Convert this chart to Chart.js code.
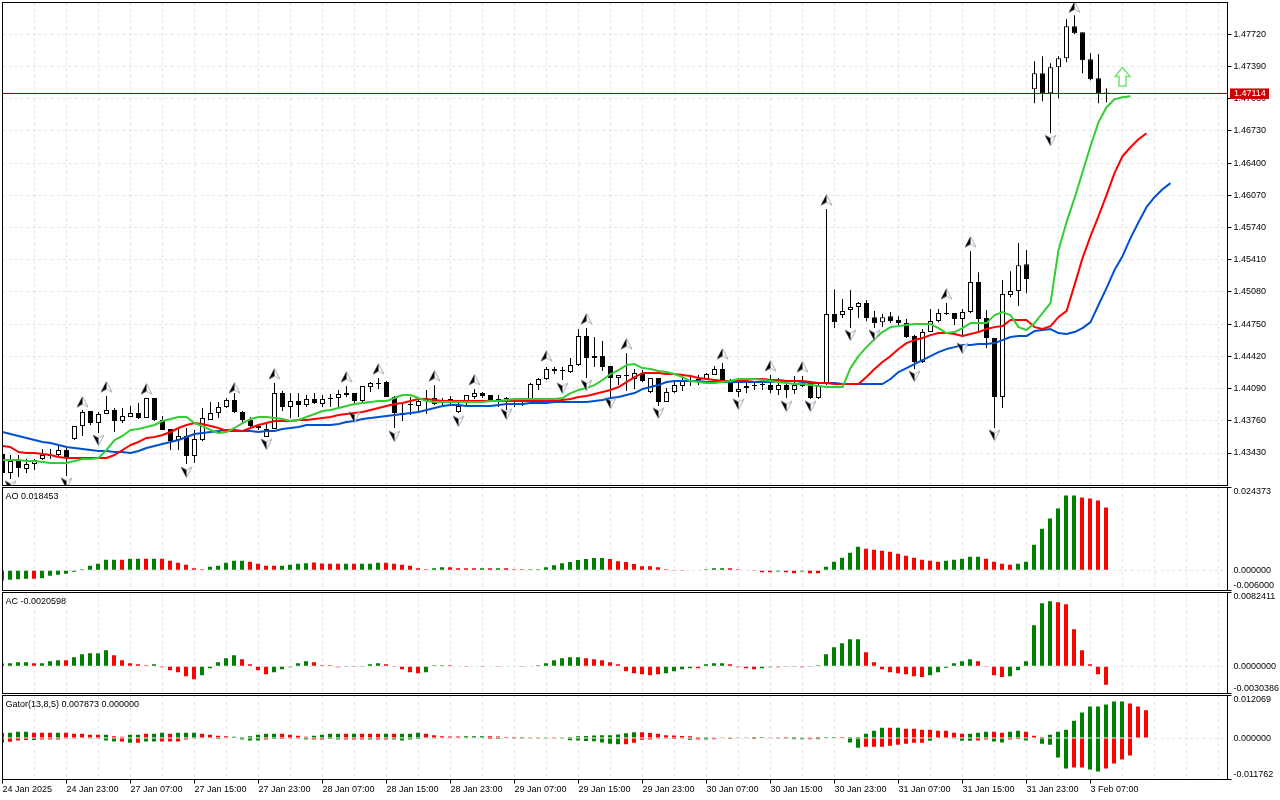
<!DOCTYPE html>
<html>
<head>
<meta charset="utf-8">
<title>Bill Williams chart</title>
<script src="https://cdn.jsdelivr.net/npm/chart.js@4"></script>
<style>
  html, body { margin: 0; padding: 0; background: #fff; }
  canvas { position: absolute; left: 0; }
</style>
</head>
<body>
<canvas id="mainChart" width="1280" height="487" style="top:0"></canvas>
<canvas id="aoChart" width="1280" height="105" style="top:487px"></canvas>
<canvas id="acChart" width="1280" height="103" style="top:592px"></canvas>
<canvas id="gatorChart" width="1280" height="105" style="top:695px"></canvas>
<script>
const timeLabels = ['24 Jan 2025', '24 Jan 23:00', '27 Jan 07:00', '27 Jan 15:00', '27 Jan 23:00', '28 Jan 07:00',
    '28 Jan 15:00', '28 Jan 23:00', '29 Jan 07:00', '29 Jan 15:00', '29 Jan 23:00', '30 Jan 07:00',
    '30 Jan 15:00', '30 Jan 23:00', '31 Jan 07:00', '31 Jan 15:00', '31 Jan 23:00', '3 Feb 07:00'];
const priceTicks = [1.4772, 1.4739, 1.4706, 1.4673, 1.464, 1.4607, 1.4574, 1.4541, 1.4508, 1.4475, 1.4442, 1.4409, 1.4376, 1.4343];
const currentPrice = 1.47114;

const openPrices = [
    1.43420, 1.43225, 1.43348, 1.43266, 1.43317, 1.43369, 1.43410, 1.43410, 1.43461, 1.43573,
    1.43707, 1.43861, 1.43737, 1.43830, 1.43871, 1.43758, 1.43799, 1.43840, 1.43789, 1.43994,
    1.43768, 1.43676, 1.43563, 1.43605, 1.43400, 1.43563, 1.43768, 1.43840, 1.43901, 1.43973,
    1.43851, 1.43768, 1.43707, 1.43594, 1.43676, 1.44045, 1.43901, 1.43963, 1.43922, 1.43983,
    1.43932, 1.43994, 1.43994, 1.44045, 1.44045, 1.43963, 1.44106, 1.44136, 1.44157, 1.44004,
    1.43820, 1.43922, 1.43912, 1.43963, 1.43994, 1.43963, 1.43942, 1.43851, 1.43963, 1.44004,
    1.44045, 1.44024, 1.43983, 1.43983, 1.43983, 1.43973, 1.43983, 1.44126, 1.44187, 1.44290,
    1.44270, 1.44259, 1.44331, 1.44628, 1.44403, 1.44423, 1.44321, 1.44198, 1.44218, 1.44187,
    1.44249, 1.44055, 1.44198, 1.43953, 1.44055, 1.44116, 1.44167, 1.44177, 1.44187, 1.44229,
    1.44290, 1.44146, 1.44055, 1.44095, 1.44126, 1.44136, 1.44126, 1.44075, 1.44126, 1.44075,
    1.44146, 1.44146, 1.43994, 1.44136, 1.44853, 1.44843, 1.44894, 1.44925, 1.44966, 1.44822,
    1.44771, 1.44832, 1.44792, 1.44761, 1.44628, 1.44362, 1.44669, 1.44782, 1.44853, 1.44864,
    1.44802, 1.44874, 1.45181, 1.44812, 1.44608, 1.44004, 1.45048, 1.45089, 1.45365, 1.47157,
    1.47321, 1.47116, 1.47383, 1.47475, 1.47802, 1.47741, 1.47465, 1.47270, 1.47116];
const highPrices = [
    1.43461, 1.43410, 1.43410, 1.43369, 1.43369, 1.43471, 1.43471, 1.43512, 1.43481, 1.43707,
    1.43871, 1.43861, 1.43851, 1.44014, 1.43891, 1.43891, 1.43912, 1.43942, 1.43994, 1.43994,
    1.43810, 1.43676, 1.43686, 1.43686, 1.43666, 1.43891, 1.43952, 1.43952, 1.43994, 1.44045,
    1.43861, 1.43799, 1.43727, 1.43737, 1.44146, 1.44065, 1.44045, 1.44045, 1.44024, 1.44045,
    1.44024, 1.44034, 1.44075, 1.44116, 1.44045, 1.44116, 1.44157, 1.44198, 1.44167, 1.44014,
    1.43932, 1.44004, 1.43994, 1.44075, 1.44126, 1.43994, 1.44014, 1.43942, 1.44024, 1.44085,
    1.44055, 1.44024, 1.44024, 1.44004, 1.43994, 1.43994, 1.44146, 1.44198, 1.44310, 1.44310,
    1.44310, 1.44403, 1.44700, 1.44710, 1.44618, 1.44577, 1.44321, 1.44229, 1.44454, 1.44290,
    1.44280, 1.44198, 1.44198, 1.44095, 1.44157, 1.44208, 1.44208, 1.44229, 1.44249, 1.44321,
    1.44352, 1.44187, 1.44157, 1.44146, 1.44146, 1.44157, 1.44229, 1.44198, 1.44177, 1.44218,
    1.44218, 1.44157, 1.44146, 1.45929, 1.45109, 1.45007, 1.45099, 1.44976, 1.44997, 1.44884,
    1.44853, 1.44874, 1.44832, 1.44802, 1.44638, 1.44700, 1.44905, 1.44905, 1.44966, 1.44864,
    1.44905, 1.45498, 1.45283, 1.44894, 1.44608, 1.45202, 1.45293, 1.45581, 1.45509, 1.47444,
    1.47495, 1.47424, 1.47495, 1.47874, 1.47915, 1.47741, 1.47526, 1.47516, 1.47168];
const lowPrices = [
    1.43134, 1.43164, 1.43184, 1.43225, 1.43256, 1.43358, 1.43369, 1.43400, 1.43195, 1.43563,
    1.43605, 1.43717, 1.43635, 1.43830, 1.43646, 1.43737, 1.43799, 1.43778, 1.43789, 1.43758,
    1.43666, 1.43461, 1.43461, 1.43317, 1.43327, 1.43553, 1.43768, 1.43789, 1.43891, 1.43840,
    1.43737, 1.43696, 1.43666, 1.43594, 1.43676, 1.43861, 1.43789, 1.43799, 1.43901, 1.43932,
    1.43901, 1.43901, 1.43901, 1.44004, 1.43942, 1.43953, 1.44055, 1.44085, 1.44004, 1.43686,
    1.43758, 1.43820, 1.43840, 1.43830, 1.43922, 1.43922, 1.43932, 1.43840, 1.43922, 1.43983,
    1.43994, 1.43953, 1.43901, 1.43871, 1.43901, 1.43912, 1.43973, 1.44075, 1.44177, 1.44239,
    1.44177, 1.44249, 1.44321, 1.44198, 1.44310, 1.44270, 1.44004, 1.44126, 1.44065, 1.44085,
    1.44157, 1.44045, 1.43912, 1.43953, 1.44045, 1.44065, 1.44116, 1.44126, 1.44177, 1.44229,
    1.44147, 1.44055, 1.44004, 1.44045, 1.44075, 1.44075, 1.44045, 1.44024, 1.43994, 1.44034,
    1.44106, 1.43983, 1.43983, 1.44126, 1.44710, 1.44812, 1.44710, 1.44812, 1.44782, 1.44710,
    1.44720, 1.44761, 1.44741, 1.44608, 1.44290, 1.44352, 1.44669, 1.44771, 1.44843, 1.44741,
    1.44628, 1.44864, 1.44669, 1.44505, 1.43686, 1.43891, 1.45027, 1.44935, 1.45068, 1.47014,
    1.47034, 1.46707, 1.47065, 1.47434, 1.47721, 1.47321, 1.47250, 1.47014, 1.47024];
const closePrices = [
    1.43225, 1.43348, 1.43276, 1.43317, 1.43358, 1.43410, 1.43400, 1.43461, 1.43389, 1.43707,
    1.43851, 1.43737, 1.43830, 1.43871, 1.43758, 1.43810, 1.43840, 1.43789, 1.43994, 1.43768,
    1.43666, 1.43553, 1.43605, 1.43400, 1.43573, 1.43789, 1.43840, 1.43901, 1.43973, 1.43851,
    1.43768, 1.43707, 1.43686, 1.43676, 1.44045, 1.43901, 1.43963, 1.43922, 1.43983, 1.43942,
    1.43983, 1.43983, 1.44034, 1.44024, 1.43963, 1.44116, 1.44146, 1.44146, 1.44004, 1.43840,
    1.43840, 1.43932, 1.43963, 1.43983, 1.43932, 1.43942, 1.43983, 1.43912, 1.44024, 1.44045,
    1.44014, 1.43963, 1.43973, 1.43994, 1.43973, 1.43983, 1.44136, 1.44187, 1.44290, 1.44270,
    1.44280, 1.44331, 1.44628, 1.44403, 1.44423, 1.44310, 1.44198, 1.44229, 1.44229, 1.44249,
    1.44167, 1.44198, 1.43953, 1.44055, 1.44126, 1.44167, 1.44177, 1.44187, 1.44239, 1.44290,
    1.44157, 1.44055, 1.44085, 1.44116, 1.44116, 1.44126, 1.44075, 1.44126, 1.44075, 1.44126,
    1.44116, 1.43994, 1.44116, 1.44853, 1.44771, 1.44884, 1.44925, 1.44966, 1.44812, 1.44761,
    1.44822, 1.44782, 1.44761, 1.44618, 1.44362, 1.44669, 1.44782, 1.44864, 1.44864, 1.44802,
    1.44874, 1.45181, 1.44802, 1.44608, 1.44004, 1.45058, 1.45089, 1.45355, 1.45212, 1.47321,
    1.47116, 1.47383, 1.47475, 1.47802, 1.47731, 1.47454, 1.47260, 1.47116, 1.47114];

// alligator lines, as displayed (already shifted forward)
const jawLine = [
    1.43645, 1.43625, 1.43604, 1.43584, 1.43563, 1.43543, 1.43532, 1.43512, 1.43491, 1.43481,
    1.43471, 1.43461, 1.43450, 1.43450, 1.43440, 1.43440, 1.43430, 1.43450, 1.43481, 1.43502,
    1.43522, 1.43543, 1.43563, 1.43594, 1.43625, 1.43635, 1.43645, 1.43655, 1.43666, 1.43666,
    1.43655, 1.43655, 1.43645, 1.43655, 1.43655, 1.43676, 1.43686, 1.43696, 1.43717, 1.43717,
    1.43717, 1.43717, 1.43727, 1.43747, 1.43758, 1.43778, 1.43788, 1.43799, 1.43809, 1.43819,
    1.43829, 1.43840, 1.43850, 1.43870, 1.43891, 1.43911, 1.43922, 1.43922, 1.43911, 1.43911,
    1.43911, 1.43911, 1.43922, 1.43932, 1.43932, 1.43932, 1.43942, 1.43942, 1.43942, 1.43952,
    1.43952, 1.43952, 1.43952, 1.43952, 1.43962, 1.43973, 1.43993, 1.44003, 1.44024, 1.44044,
    1.44085, 1.44106, 1.44126, 1.44157, 1.44167, 1.44167, 1.44167, 1.44167, 1.44157, 1.44157,
    1.44157, 1.44157, 1.44157, 1.44157, 1.44157, 1.44157, 1.44157, 1.44167, 1.44167, 1.44167,
    1.44157, 1.44147, 1.44147, 1.44147, 1.44147, 1.44137, 1.44137, 1.44137, 1.44137, 1.44137,
    1.44137, 1.44188, 1.44259, 1.44300, 1.44341, 1.44382, 1.44423, 1.44464, 1.44495, 1.44515,
    1.44536, 1.44536, 1.44546, 1.44546, 1.44556, 1.44587, 1.44618, 1.44628, 1.44628, 1.44679,
    1.44690, 1.44700, 1.44659, 1.44649, 1.44669, 1.44710, 1.44771, 1.44946, 1.45120, 1.45304,
    1.45447, 1.45632, 1.45795, 1.45949, 1.46051, 1.46133, 1.46195];
const teethLine = [
    1.43502, 1.43491, 1.43440, 1.43430, 1.43430, 1.43420, 1.43410, 1.43389, 1.43379, 1.43379,
    1.43379, 1.43379, 1.43379, 1.43379, 1.43410, 1.43461, 1.43512, 1.43543, 1.43584, 1.43594,
    1.43614, 1.43645, 1.43686, 1.43717, 1.43737, 1.43727, 1.43706, 1.43686, 1.43655, 1.43655,
    1.43655, 1.43686, 1.43717, 1.43737, 1.43758, 1.43758, 1.43758, 1.43768, 1.43768, 1.43778,
    1.43788, 1.43799, 1.43819, 1.43829, 1.43840, 1.43850, 1.43870, 1.43891, 1.43911, 1.43932,
    1.43942, 1.43962, 1.43983, 1.43983, 1.43973, 1.43962, 1.43962, 1.43962, 1.43962, 1.43962,
    1.43962, 1.43962, 1.43962, 1.43962, 1.43962, 1.43962, 1.43962, 1.43962, 1.43962, 1.43962,
    1.43973, 1.43983, 1.44003, 1.44014, 1.44034, 1.44055, 1.44075, 1.44106, 1.44157, 1.44208,
    1.44249, 1.44249, 1.44249, 1.44239, 1.44239, 1.44229, 1.44218, 1.44198, 1.44188, 1.44178,
    1.44167, 1.44167, 1.44178, 1.44178, 1.44188, 1.44188, 1.44178, 1.44178, 1.44167, 1.44167,
    1.44167, 1.44157, 1.44147, 1.44147, 1.44137, 1.44137, 1.44137, 1.44137, 1.44208, 1.44290,
    1.44362, 1.44423, 1.44495, 1.44556, 1.44587, 1.44608, 1.44638, 1.44659, 1.44659, 1.44649,
    1.44628, 1.44649, 1.44669, 1.44700, 1.44720, 1.44730, 1.44792, 1.44792, 1.44792, 1.44720,
    1.44700, 1.44730, 1.44823, 1.44884, 1.45150, 1.45427, 1.45652, 1.45857, 1.46072, 1.46297,
    1.46471, 1.46563, 1.46645, 1.46707];
const lipsLine = [
    1.43358, 1.43358, 1.43358, 1.43348, 1.43348, 1.43338, 1.43327, 1.43327, 1.43327, 1.43348,
    1.43369, 1.43369, 1.43379, 1.43461, 1.43563, 1.43604, 1.43666, 1.43676, 1.43696, 1.43717,
    1.43758, 1.43778, 1.43799, 1.43799, 1.43737, 1.43706, 1.43666, 1.43635, 1.43645, 1.43686,
    1.43737, 1.43778, 1.43799, 1.43799, 1.43788, 1.43778, 1.43758, 1.43768, 1.43799, 1.43829,
    1.43860, 1.43870, 1.43891, 1.43911, 1.43932, 1.43942, 1.43952, 1.43962, 1.43962, 1.43993,
    1.44024, 1.44024, 1.43993, 1.43962, 1.43952, 1.43952, 1.43952, 1.43952, 1.43952, 1.43952,
    1.43952, 1.43962, 1.43962, 1.43973, 1.43983, 1.43983, 1.43983, 1.43983, 1.43983, 1.43983,
    1.43993, 1.44044, 1.44075, 1.44096, 1.44126, 1.44178, 1.44239, 1.44280, 1.44331, 1.44341,
    1.44300, 1.44290, 1.44270, 1.44259, 1.44239, 1.44208, 1.44167, 1.44157, 1.44147, 1.44147,
    1.44157, 1.44167, 1.44188, 1.44188, 1.44188, 1.44178, 1.44167, 1.44157, 1.44147, 1.44137,
    1.44137, 1.44126, 1.44116, 1.44106, 1.44106, 1.44106, 1.44300, 1.44423, 1.44515, 1.44597,
    1.44669, 1.44720, 1.44730, 1.44741, 1.44751, 1.44751, 1.44751, 1.44710, 1.44659, 1.44669,
    1.44710, 1.44761, 1.44761, 1.44761, 1.44843, 1.44874, 1.44843, 1.44720, 1.44690, 1.44761,
    1.44864, 1.44966, 1.45509, 1.45795, 1.46041, 1.46307, 1.46574, 1.46819, 1.46973, 1.47055,
    1.47075, 1.47086];

const fractalUpBars = [10, 13, 18, 29, 34, 43, 47, 54, 59, 68, 73, 78, 90, 96, 100, 103, 118, 121, 134];
const fractalUpPrices = [1.43952, 1.44106, 1.44085, 1.44096, 1.44239, 1.44208, 1.44290, 1.44218, 1.44178, 1.44423,
    1.44802, 1.44546, 1.44444, 1.44321, 1.44311, 1.46021, 1.45058, 1.45591, 1.47997];
const fractalDownBars = [1, 8, 12, 23, 33, 44, 49, 57, 63, 70, 73, 76, 82, 92, 98, 101, 106, 109, 114, 120, 124, 131];
const fractalDownPrices = [1.43092, 1.43123, 1.43563, 1.43235, 1.43522, 1.43799, 1.43604, 1.43758, 1.43829, 1.44096,
    1.44126, 1.43942, 1.43840, 1.43932, 1.43911, 1.43911, 1.44638, 1.44638, 1.44218, 1.44505, 1.43614, 1.46635];
const buySignalBar = [140];
const buySignalPrice = [1.47283];

const aoValues = [
    -0.00306, -0.00286, -0.00266, -0.00257, -0.00257, -0.00237, -0.00168, -0.00138, -0.00109, -0.00049,
    0.0003, 0.00128, 0.00188, 0.00306, 0.00306, 0.00306, 0.00336, 0.00336, 0.00336, 0.00336,
    0.00336, 0.00276, 0.00217, 0.00158, 0.00059, 0.0003, 0.00099, 0.00128, 0.00217, 0.00276,
    0.00276, 0.00247, 0.00188, 0.00128, 0.00128, 0.00128, 0.00158, 0.00188, 0.00207, 0.00227,
    0.00197, 0.00188, 0.00188, 0.00188, 0.00188, 0.00188, 0.00188, 0.00217, 0.00217, 0.00188,
    0.00158, 0.00128, 0.00059, 0.0003, 0.00059, 0.00089, 0.00089, 0.00059, 0.00059, 0.00059,
    0.00059, 0.00059, 0.00059, 0.00059, 0.0003, 0.0003, 0.0003, 0.0003, 0.00089, 0.00148,
    0.00207, 0.00237, 0.00296, 0.00326, 0.00355, 0.00355, 0.00326, 0.00266, 0.00237, 0.00178,
    0.00118, 0.00118, 0.00089, 0.0003, -0.0001, -0.0001, -0.0002, -0.0002, 0.0003, 0.00059,
    0.00059, 0.00059, 0.0003, -0.0002, -0.0001, -0.00059, -0.00059, -0.00039, -0.00059, -0.00089,
    -0.00039, -0.00089, -0.00089, 0.00099, 0.00247, 0.00365, 0.00513, 0.00691, 0.00632, 0.00602,
    0.00572, 0.00543, 0.00484, 0.00424, 0.00365, 0.00306, 0.00276, 0.00247, 0.00276, 0.00306,
    0.00336, 0.00395, 0.00395, 0.00336, 0.00247, 0.00188, 0.00158, 0.00188, 0.00247, 0.0075,
    0.01224, 0.0152, 0.01816, 0.02201, 0.02201, 0.02142, 0.02112, 0.02053, 0.018453];
const aoColours = 'ggggrggggggggggrggrgrrrrrrgggggrrrrggggrrrrgrgggrrrrrrggrrrrgrgrrrggggggggggrrrrrrrrrrrggggrrrrrrgrrgrrgggggrrrrrrrrrrgggggrrrrggggggggrrrr';

const acValues = [
    0.0003, 0.00033, 0.00045, 0.00045, 0.00033, 0.00033, 0.00056, 0.00067, 0.00067, 0.001,
    0.00134, 0.00145, 0.00145, 0.00179, 0.00123, 0.00067, 0.00033, 0.00022, 0.00011, 0.00022,
    -0.00011, -0.00045, -0.00067, -0.00112, -0.00145, -0.001, -0.00022, 0.00045, 0.00089, 0.00123,
    0.00078, 0.00022, -0.00045, -0.00089, -0.00067, -0.00033, -0.00011, 0.00033, 0.00056, 0.00045,
    0.00011, 0.00011, -0.00011, -0.00007, -0.00007, -0.00007, 0.00022, 0.00033, 0.00022, -0.00007,
    -0.00033, -0.00067, -0.00078, -0.00067, 0.00011, 0.00011, 0.00011, 0.00007, -0.00007, 0.00007,
    -0.00007, 0.00007, -0.00007, 0.00007, 0.00007, -0.00007, 0.00007, 0.00011, 0.00033, 0.00067,
    0.00089, 0.001, 0.001, 0.00089, 0.00078, 0.00067, 0.00045, 0.00022, -0.00056, -0.00078,
    -0.00089, -0.001, -0.00089, -0.00078, -0.00056, -0.00033, -0.00022, -0.00022, 0.00022, 0.00033,
    0.00033, 0.00022, -0.00011, -0.00022, -0.00033, -0.00022, -0.00011, -0.00011, -0.00007, -0.00007,
    -0.00011, -0.00007, 0.00011, 0.00134, 0.00212, 0.00257, 0.00301, 0.00301, 0.00156, 0.00045,
    -0.00033, -0.00067, -0.00078, -0.00089, -0.00112, -0.00119, -0.001, -0.00067, -0.00015, 0.00033,
    0.00056, 0.00078, 0.00056, -0.00007, -0.001, -0.00119, -0.00112, -0.00045, 0.00056, 0.00458,
    0.00703, 0.00725, 0.00714, 0.00692, 0.00413, 0.00179, 0.00022, -0.00089, -0.0020598];
const acColours = 'rgggrgggrgggggrrrrrgrrrrrgggggrrrrgggggrrrrgrgggrrrrrgggrrrgrgrgrrgggggggrrrrrrrrrrggggrgggrrrrggrgrrgggggggrrrrrrrrggggggrrrrggggggrrrrrrr';

const gatorUpper = [
    0.00143, 0.00152, 0.00181, 0.00181, 0.00152, 0.00152, 0.00152, 0.00152, 0.00152, 0.00124,
    0.00124, 0.00095, 0.00095, 0.00095, 0.00048, 0.00038, 0.00095, 0.00095, 0.00124, 0.00124,
    0.00152, 0.00124, 0.00152, 0.00152, 0.00152, 0.00124, 0.00095, 0.00067, 0.00048, 0.00038,
    0.00029, 0.00048, 0.00095, 0.00124, 0.00124, 0.00124, 0.00095, 0.00067, 0.00038, 0.00067,
    0.00095, 0.00124, 0.00124, 0.00124, 0.00124, 0.00124, 0.00124, 0.00124, 0.00124, 0.00124,
    0.00124, 0.00124, 0.00152, 0.00124, 0.00082, 0.00051, 0.00041, 0.00041, 0.00051, 0.00051,
    0.00051, 0.00051, 0.00041, 0.00031, 0.00031, 0.00031, 0.0002, 0.0002, 0.0002, 0.0001,
    0.0002, 0.00031, 0.00051, 0.00061, 0.00072, 0.00082, 0.00082, 0.00102, 0.00133, 0.00164,
    0.00164, 0.00143, 0.00123, 0.00082, 0.00072, 0.00061, 0.00051, 0.00031, 0.00031, 0.0002,
    0.0001, 0.0001, 0.0002, 0.0002, 0.00031, 0.00031, 0.0002, 0.0001, 0.00002, 0.00002,
    0.0001, 0.0001, 0.00002, 0.00029, 0.00029, 0.00029, 0.00029, 0.00029, 0.00124, 0.00209,
    0.00295, 0.00295, 0.00295, 0.00266, 0.00266, 0.00238, 0.00238, 0.00209, 0.00209, 0.00152,
    0.00124, 0.00124, 0.00152, 0.00181, 0.00181, 0.00152, 0.00181, 0.00209, 0.00181, 0.00067,
    0.00029, 0.00095, 0.00181, 0.00238, 0.00494, 0.00722, 0.00893, 0.00893, 0.0095, 0.01036,
    0.01036, 0.00979, 0.00893, 0.00787];
const gatorUpperColours = 'rgggrrrgrr' + 'rrrgrrggrg' + 'grgggrrrrg' + 'gggggrrrrg' + 'gggrgrrrgr' + 'gggrrrrrgg' + 'grrrrgrrgr' +
    'gggggggggg' + 'rrrrrrrrgr' + 'rgggggrrrg' + 'grrggrgggg' + 'grgrrrrrrr' + 'rgggrrggrr' + 'rggggggggg' + 'grrr';
const gatorLower = [
    0.00124, 0.00105, 0.00067, 0.00057, 0.00057, 0.00038, 0.00038, 0.00038, 0.00019, 0.00019,
    0.0001, 0.00019, 0.00019, 0.00067, 0.00095, 0.00095, 0.00133, 0.00133, 0.00095, 0.00095,
    0.00095, 0.00095, 0.00095, 0.00038, 0.00019, 0.0001, 0.0001, 0.00029, 0.0001, 0.0001,
    0.00038, 0.00067, 0.00067, 0.00038, 0.00029, 0.00029, 0.00019, 0.00019, 0.00038, 0.00038,
    0.00038, 0.00029, 0.00038, 0.00038, 0.00038, 0.00038, 0.00038, 0.00038, 0.00038, 0.00038,
    0.00067, 0.00038, 0.00029, 0.0001, 0.0002, 0.0001, 0.0001, 0.0001, 0.0001, 0.0001,
    0.0001, 0.00002, 0.00002, 0.0001, 0.0002, 0.0002, 0.0002, 0.0002, 0.0002, 0.0002,
    0.0002, 0.00061, 0.00072, 0.00082, 0.00092, 0.00123, 0.00164, 0.00174, 0.00174, 0.00133,
    0.00051, 0.00041, 0.0002, 0.0002, 0.00002, 0.0002, 0.00051, 0.00041, 0.00041, 0.00031,
    0.0001, 0.00002, 0.0001, 0.0001, 0.00002, 0.0001, 0.0001, 0.0002, 0.0002, 0.00031,
    0.00031, 0.00031, 0.00031, 0.0001, 0.0001, 0.0001, 0.00124, 0.00276, 0.00247, 0.00247,
    0.00247, 0.00219, 0.0019, 0.00162, 0.00133, 0.00133, 0.00076, 0.0001, 0.0001, 0.00019,
    0.00076, 0.00076, 0.00067, 0.00038, 0.00095, 0.00124, 0.00038, 0.00029, 0.00067, 0.0001,
    0.00162, 0.0019, 0.00551, 0.00865, 0.00836, 0.00836, 0.00893, 0.0095, 0.00865, 0.00722,
    0.00608, 0.00494];
const gatorLowerColours = 'grrrgrrrrr' + 'rgrggrgrgg' + 'rrrrrgggrr' + 'gggrgrrrgr' + 'rggrrrgrrg' + 'gggggrrgrg' + 'rrgggrgrgr' +
    'ggggggggrr' + 'rrrrrggrgr' + 'rrgrrggggg' + 'grgggrggrr' + 'rrrrrrgrrg' + 'ggrrggrrgr' + 'ggggrrggrr' + 'rr';

const FONT = { family: '"Liberation Sans", Arial, sans-serif', size: 9 };
const FONT_CSS = '9px "Liberation Sans", Arial, sans-serif';
const GRID = '#e4e4e4';
const BAR_GREEN = '#008000';
const BAR_RED = '#ff0000';
const xMax = 153.125;   // bars that fit between the left and right frame lines
const histShift = 1 / 16; // the 4px histogram bars sit half a pixel left of the candles

function colourOf(c) { return c === 'g' ? BAR_GREEN : BAR_RED; }

// fractal marker: black left half, pale right half
function makeFractal(up) {
    const c = document.createElement('canvas');
    c.width = 13; c.height = 13;
    const g = c.getContext('2d');
    if (!up) { g.translate(0, 13); g.scale(1, -1); }
    g.beginPath();
    g.moveTo(6.5, 1); g.lineTo(12, 11.5); g.lineTo(6.5, 8.5); g.lineTo(1, 11.5); g.closePath();
    g.fillStyle = '#fff'; g.fill();
    g.strokeStyle = '#a3adbd'; g.lineWidth = 1; g.stroke();
    g.beginPath();
    g.moveTo(6.5, 1); g.lineTo(6.5, 8.5); g.lineTo(1, 11.5); g.closePath();
    g.fillStyle = '#000'; g.fill();
    return c;
}

function makeBuyArrow() {
    const c = document.createElement('canvas');
    c.width = 19; c.height = 22;
    const g = c.getContext('2d');
    g.beginPath();
    g.moveTo(9.5, 1.5); g.lineTo(17, 10.5); g.lineTo(13, 10.5); g.lineTo(13, 20); g.lineTo(6, 20);
    g.lineTo(6, 10.5); g.lineTo(2, 10.5); g.closePath();
    g.fillStyle = '#fff'; g.fill();
    g.strokeStyle = '#74e274'; g.lineWidth = 1.5; g.stroke();
    return c;
}

function sizeX(scale) {
    scale.height = scale.options.ticks.display ? 20.5 : 0;
    scale.paddingLeft = 0; scale.paddingRight = 0;
}
function sizeY(scale) {
    scale.width = 52.5;
    scale.paddingTop = 0; scale.paddingBottom = 0;
}

function xScale(showLabels) {
    return {
        type: 'linear', offset: false, min: 0, max: xMax, afterFit: sizeX,
        afterBuildTicks: function (scale) {
            const t = [];
            for (let v = 0; v < xMax; v += 4) t.push({ value: v });
            scale.ticks = t;
        },
        border: { display: false, dash: [3, 3] },
        grid: {
            offset: false, color: GRID, drawTicks: showLabels, tickLength: 4,
            tickColor: function (ctx) { return ctx.index % 2 === 0 && ctx.index / 2 < timeLabels.length ? '#000' : 'rgba(0,0,0,0)'; }
        },
        ticks: {
            display: showLabels, autoSkip: false, maxRotation: 0, minRotation: 0, align: 'start', padding: 1,
            font: FONT, color: '#000',
            callback: function (v, i) { return i % 2 === 0 && timeLabels[i / 2] ? timeLabels[i / 2] : ''; }
        }
    };
}

// frame, indicator caption and (for the sub windows) the right-hand labels
const panelDecor = {
    id: 'panelDecor',
    afterDraw: function (chart, args, opts) {
        const a = chart.chartArea, ctx = chart.ctx;
        ctx.save();
        ctx.strokeStyle = '#000';
        ctx.lineWidth = 1;
        ctx.strokeRect(a.left, a.top, a.right - a.left, a.bottom - a.top);
        ctx.font = FONT_CSS;
        ctx.fillStyle = '#000';
        ctx.textBaseline = 'middle';
        if (opts.caption) ctx.fillText(opts.caption, a.left + 3, a.top + 9.5);
        (opts.axisLabels || []).forEach(function (lab) {
            const y = chart.scales.y.getPixelForValue(lab.value);
            ctx.fillText(lab.text, a.right + 6, Math.min(a.bottom - 4.5, Math.max(a.top + 4.5, y)));
            if (y <= a.top + 1 || y >= a.bottom - 1) {
                ctx.beginPath(); ctx.moveTo(a.right, y); ctx.lineTo(a.right + 4, y); ctx.stroke();
            }
        });
        if (opts.price) {
            const y = chart.scales.y.getPixelForValue(opts.price);
            ctx.fillStyle = '#cc0000';
            ctx.fillRect(a.right + 2.5, y - 5, 39, 10.5);
            ctx.fillStyle = '#fff';
            ctx.fillText(opts.price.toFixed(5), a.right + 6.5, y + 0.5);
        }
        ctx.restore();
    }
};

function subPanel(id, datasets, yMin, yMax, caption, axisLabels, padTop, padBottom, showLabels) {
    new Chart(document.getElementById(id).getContext('2d'), {
        type: 'bar',
        data: { datasets: datasets },
        plugins: [panelDecor],
        options: {
            responsive: false, animation: false, devicePixelRatio: 1,
            layout: { autoPadding: false, padding: { left: 2.5, right: 0, top: padTop, bottom: padBottom } },
            plugins: {
                legend: { display: false }, tooltip: { enabled: false },
                panelDecor: { caption: caption, axisLabels: axisLabels }
            },
            scales: {
                x: xScale(showLabels),
                y: {
                    position: 'right', min: yMin, max: yMax, afterFit: sizeY,
                    afterBuildTicks: function (scale) { scale.ticks = [{ value: yMax }, { value: 0 }, { value: yMin }]; },
                    border: { display: false, dash: [3, 3] },
                    grid: {
                        drawTicks: false,
                        color: function (ctx) { return ctx.tick && ctx.tick.value === 0 ? GRID : 'rgba(0,0,0,0)'; }
                    },
                    ticks: { display: false }
                }
            }
        }
    });
}

function histogram(values, colours, sign) {
    return {
        data: values.map(function (v, i) { return { x: i - histShift, y: v * sign }; }),
        backgroundColor: values.map(function (v, i) { return colourOf(colours[i]); }),
        grouped: false, barPercentage: 1, categoryPercentage: 1, maxBarThickness: 4, inflateAmount: 0
    };
}

function lineSet(values, colour, order) {
    return {
        type: 'line', order: order, borderColor: colour, borderWidth: 2, pointRadius: 0, tension: 0,
        borderJoinStyle: 'round',
        data: values.map(function (v, i) { return { x: i, y: v }; })
    };
}

function markerSet(bars, prices, style, radius) {
    return {
        type: 'line', order: 0, showLine: false, pointStyle: style, pointRadius: radius, pointHoverRadius: radius,
        data: bars.map(function (b, i) { return { x: b, y: prices[i] }; })
    };
}

window.onload = function () {
    const candles = openPrices.map(function (o, i) { return i; });

    new Chart(document.getElementById('mainChart').getContext('2d'), {
        type: 'bar',
        data: {
            datasets: [
                {
                    order: 6, grouped: false, barPercentage: 1, categoryPercentage: 1, maxBarThickness: 1, inflateAmount: 0,
                    backgroundColor: '#000',
                    data: candles.map(function (i) { return { x: i, y: [lowPrices[i], highPrices[i]] }; })
                },
                {
                    order: 5, grouped: false, barPercentage: 1, categoryPercentage: 1, maxBarThickness: 5, inflateAmount: 0,
                    borderColor: '#000', borderWidth: 1, borderSkipped: false, minBarLength: 1,
                    backgroundColor: candles.map(function (i) { return closePrices[i] > openPrices[i] ? '#fff' : '#000'; }),
                    data: candles.map(function (i) { return { x: i, y: [openPrices[i], closePrices[i]] }; })
                },
                {
                    type: 'line', order: 4, borderColor: '#7c0a0a', borderWidth: 1, pointRadius: 0,
                    data: [{ x: 0, y: currentPrice }, { x: xMax, y: currentPrice }]
                },
                lineSet(jawLine, '#0050d0', 3),
                lineSet(teethLine, '#ff0000', 2),
                lineSet(lipsLine, '#32cd32', 1),
                markerSet(fractalUpBars, fractalUpPrices, makeFractal(true), 7),
                markerSet(fractalDownBars, fractalDownPrices, makeFractal(false), 7),
                markerSet(buySignalBar, buySignalPrice, makeBuyArrow(), 11)
            ]
        },
        plugins: [panelDecor],
        options: {
            responsive: false, animation: false, devicePixelRatio: 1,
            layout: { autoPadding: false, padding: { left: 2.5, right: 0, top: 2.5, bottom: 1.5 } },
            plugins: {
                legend: { display: false }, tooltip: { enabled: false },
                panelDecor: { price: currentPrice }
            },
            scales: {
                x: xScale(false),
                y: {
                    position: 'right', min: 1.43097, max: 1.48046, afterFit: sizeY,
                    afterBuildTicks: function (scale) { scale.ticks = priceTicks.map(function (v) { return { value: v }; }); },
                    border: { display: false, dash: [3, 3] },
                    grid: { color: GRID, tickLength: 4, tickColor: '#000' },
                    ticks: { font: FONT, color: '#000', padding: 2, callback: function (v) { return v.toFixed(5); } }
                }
            }
        }
    });

    subPanel('aoChart', [histogram(aoValues, aoColours, 1)], -0.006, 0.024373, 'AO 0.018453',
        [{ value: 0.024373, text: '0.024373' }, { value: 0, text: '0.000000' }, { value: -0.006, text: '-0.006000' }], 0.5, 1.5, false);
    subPanel('acChart', [histogram(acValues, acColours, 1)], -0.0030386, 0.0082411, 'AC -0.0020598',
        [{ value: 0.0082411, text: '0.0082411' }, { value: 0, text: '0.0000000' }, { value: -0.0030386, text: '-0.0030386' }], 0.5, 1.5, false);
    subPanel('gatorChart', [histogram(gatorUpper, gatorUpperColours, 1), histogram(gatorLower, gatorLowerColours, -1)],
        -0.011762, 0.012069, 'Gator(13,8,5) 0.007873 0.000000',
        [{ value: 0.012069, text: '0.012069' }, { value: 0, text: '0.000000' }, { value: -0.011762, text: '-0.011762' }], 0.5, 0, true);
};
</script>
</body>
</html>
